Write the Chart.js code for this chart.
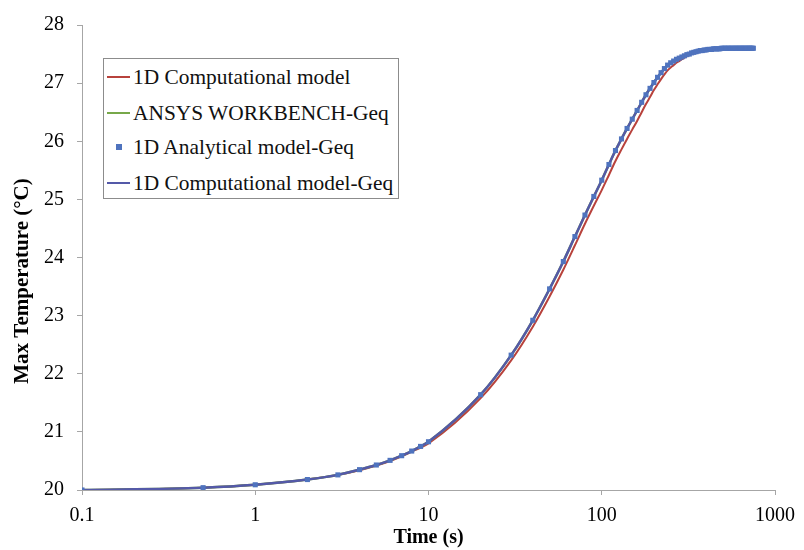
<!DOCTYPE html>
<html>
<head>
<meta charset="utf-8">
<script src="https://cdn.jsdelivr.net/npm/chart.js@4"></script>
<style>
  body { margin: 0; background: #fff; }
  #wrap { position: relative; width: 804px; height: 550px; }
  #legend {
    position: absolute; left: 103px; top: 58px; width: 294px; height: 139px;
    border: 1px solid #8c8c8c; background: #fff;
    font-family: "Liberation Serif", "Times New Roman", serif; font-size: 21.4px; color: #111;
  }
  .row { position: absolute; left: 0; height: 24px; line-height: 24px; white-space: nowrap; }
  .swatch { position: absolute; left: 3px; top: 11px; width: 23px; height: 2px; }
  .dot { position: absolute; left: 12px; top: 9px; width: 6px; height: 6px; }
  .txt { position: absolute; left: 29px; top: 0; }
</style>
</head>
<body>
<div id="wrap">
  <canvas id="grafico" width="804" height="550"></canvas>
  <div id="legend"></div>
</div>
<script>
// time steps (s)
const tiempo = [
  0.1, 0.5, 1, 2, 3, 4, 5, 6, 7, 8, 9, 10,
  20, 30, 40, 50, 60, 70, 80, 90, 100,
  110, 120, 130, 140, 150, 160, 170, 180, 190, 200,
  210, 220, 230, 240, 250, 260, 270, 280, 290, 300,
  310, 320, 330, 340, 350, 360, 370, 380, 390, 400,
  410, 420, 430, 440, 450, 460, 470, 480, 490, 500,
  510, 520, 530, 540, 550, 560, 570, 580, 590, 600,
  610, 620, 630, 640, 650, 660, 670, 680, 690, 700,
  710, 720, 730, 740, 750
];

// 1D computational model (no Geq)
const compModel = [
  20.00, 20.04, 20.09, 20.18, 20.26, 20.34, 20.42, 20.50, 20.58, 20.66, 20.73, 20.80,
  21.58, 22.23, 22.81, 23.33, 23.79, 24.21, 24.58, 24.89, 25.16,
  25.42, 25.66, 25.86, 26.04, 26.20, 26.35, 26.50, 26.64, 26.76, 26.88,
  26.98, 27.07, 27.15, 27.22, 27.27, 27.31, 27.35, 27.38, 27.41, 27.44,
  27.46, 27.48, 27.50, 27.51, 27.52, 27.53, 27.54, 27.55, 27.56, 27.56,
  27.57, 27.57, 27.58, 27.58, 27.58, 27.59, 27.59, 27.59, 27.60, 27.60,
  27.60, 27.60, 27.60, 27.60, 27.60, 27.60, 27.60, 27.60, 27.60, 27.60,
  27.60, 27.60, 27.60, 27.60, 27.60, 27.60, 27.60, 27.60, 27.60, 27.60,
  27.60, 27.60, 27.60, 27.60, 27.60
];

// Geq results (ANSYS, analytical and computational agree at this scale)
const geqTemp = [
  20.00, 20.04, 20.09, 20.18, 20.26, 20.35, 20.43, 20.51, 20.59, 20.67, 20.75, 20.83,
  21.64, 22.32, 22.92, 23.46, 23.93, 24.36, 24.73, 25.05, 25.33,
  25.60, 25.84, 26.04, 26.22, 26.38, 26.53, 26.67, 26.80, 26.91, 27.01,
  27.10, 27.18, 27.25, 27.31, 27.35, 27.38, 27.41, 27.43, 27.45, 27.47,
  27.49, 27.50, 27.52, 27.53, 27.54, 27.55, 27.56, 27.56, 27.57, 27.57,
  27.58, 27.58, 27.58, 27.59, 27.59, 27.59, 27.59, 27.59, 27.60, 27.60,
  27.60, 27.60, 27.60, 27.60, 27.60, 27.60, 27.60, 27.60, 27.60, 27.60,
  27.60, 27.60, 27.60, 27.60, 27.60, 27.60, 27.60, 27.60, 27.60, 27.60,
  27.60, 27.60, 27.60, 27.60, 27.60
];

const xTicks = [0.1, 1, 10, 100, 1000];
const yMin = 20, yMax = 28;

const fuente = "'Liberation Serif', 'Times New Roman', serif";
const ejeGris = "#a6a6a6";

function puntos(valores) {
  return tiempo.map((t, i) => ({ x: t, y: valores[i] }));
}

const datasets = [
  {
    label: "1D Computational model",
    data: puntos(compModel),
    borderColor: "#b8423c",
    borderWidth: 2,
    pointRadius: 0,
    cubicInterpolationMode: "monotone",
    order: 4
  },
  {
    label: "ANSYS WORKBENCH-Geq",
    data: puntos(geqTemp),
    borderColor: "#77a84a",
    borderWidth: 2.5,
    pointRadius: 0,
    cubicInterpolationMode: "monotone",
    order: 3
  },
  {
    label: "1D Analytical model-Geq",
    data: puntos(geqTemp),
    showLine: false,
    pointStyle: "rect",
    pointRadius: 3.6,
    borderWidth: 0,
    backgroundColor: "#4f73be",
    borderColor: "#4f73be",
    order: 1
  },
  {
    label: "1D Computational model-Geq",
    data: puntos(geqTemp),
    borderColor: "#5459a8",
    borderWidth: 2.5,
    pointRadius: 0,
    cubicInterpolationMode: "monotone",
    order: 2
  }
];

// y axis title, drawn by hand so it can sit lower than the scale centre
const tituloY = {
  id: "tituloY",
  afterDraw(chart) {
    const ctx = chart.ctx;
    ctx.save();
    ctx.translate(23, 281);
    ctx.rotate(-Math.PI / 2);
    ctx.font = "bold 21px " + fuente;
    ctx.fillStyle = "#000";
    ctx.textAlign = "center";
    ctx.textBaseline = "middle";
    ctx.fillText("Max Temperature (\u00B0C)", 0, 0);
    ctx.restore();
  }
};

const myChart = new Chart(document.getElementById("grafico"), {
  type: "line",
  data: { datasets: datasets },
  options: {
    responsive: false,
    animation: false,
    layout: { padding: { top: 18, right: 21, left: 0, bottom: 0 } },
    plugins: { legend: { display: false }, tooltip: { enabled: false } },
    scales: {
      x: {
        type: "logarithmic",
        min: 0.1,
        max: 1000,
        afterBuildTicks: (scale) => { scale.ticks = xTicks.map(v => ({ value: v })); },
        afterFit: (scale) => { scale.height = 60; },
        ticks: {
          color: "#000",
          font: { family: fuente, size: 20 },
          padding: 9,
          maxRotation: 0,
          autoSkip: false,
          callback: (v) => String(v)
        },
        grid: { drawOnChartArea: false, tickLength: 5, color: ejeGris },
        border: { color: ejeGris, width: 1 },
        title: {
          display: true,
          text: "Time (s)",
          color: "#000",
          font: { family: fuente, size: 20, weight: "bold" },
          padding: { top: 2, bottom: 0 }
        }
      },
      y: {
        min: yMin,
        max: yMax,
        afterFit: (scale) => { scale.width = 82; },
        ticks: {
          stepSize: 1,
          color: "#000",
          font: { family: fuente, size: 20 },
          padding: 13
        },
        grid: { drawOnChartArea: false, tickLength: 5, color: ejeGris },
        border: { color: ejeGris, width: 1 }
      }
    }
  },
  plugins: [tituloY]
});

// legend box inside the plot
const leyenda = document.getElementById("legend");
const filas = [18, 54, 88, 124];
datasets.forEach((ds, i) => {
  const row = document.createElement("div");
  row.className = "row";
  row.style.top = (filas[i] - 12) + "px";
  const mark = document.createElement("span");
  if (ds.showLine === false) {
    mark.className = "dot";
    mark.style.background = ds.backgroundColor;
  } else {
    mark.className = "swatch";
    mark.style.background = ds.borderColor;
  }
  const txt = document.createElement("span");
  txt.className = "txt";
  txt.textContent = ds.label;
  row.appendChild(mark);
  row.appendChild(txt);
  leyenda.appendChild(row);
});
</script>
</body>
</html>
